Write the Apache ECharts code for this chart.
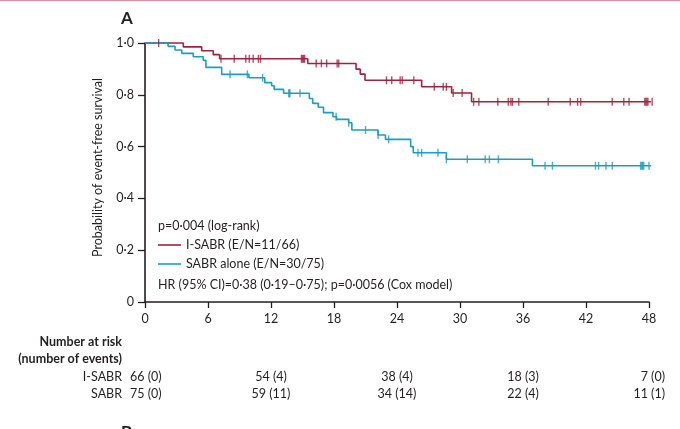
<!DOCTYPE html>
<html><head><meta charset="utf-8">
<script src="https://cdn.jsdelivr.net/npm/echarts@6/dist/echarts.min.js"></script>
<style>html,body{margin:0;padding:0;background:#fff}#c{width:680px;height:429px}</style>
</head><body><div id="c"></div>
<script>
// Kaplan-Meier step data: [time (months), survival after the event]
const isabrSteps = [[0,1],[3.65,0.985],[5.4,0.970],[6.5,0.955],[7.1,0.939],[15.5,0.921],[20.1,0.899],[20.5,0.880],[20.95,0.856],[26.35,0.831],[29.2,0.807],[31.1,0.773],[48.3,0.773]];
const sabrSteps = [[0,1],[2.2,0.987],[2.86,0.973],[3.5,0.960],[4.6,0.947],[5.55,0.933],[5.8,0.906],[7.3,0.879],[9.9,0.866],[11.4,0.847],[12.06,0.835],[12.3,0.821],[13.2,0.806],[15.65,0.786],[15.97,0.767],[16.5,0.752],[17.0,0.731],[17.9,0.715],[18.25,0.705],[19.4,0.692],[19.7,0.664],[22.2,0.645],[22.9,0.628],[25.3,0.600],[25.55,0.576],[28.7,0.551],[36.9,0.526],[48.3,0.526]];
// censoring times
const isabrCensor = [1.3,7.24,8.5,9.6,9.93,10.3,10.8,11.0,14.9,15.0,15.1,15.2,16.3,16.8,17.3,18.3,18.45,23.0,23.5,24.3,24.5,25.6,27.55,28.4,28.7,29.35,30.2,31.3,31.8,33.6,34.6,34.85,35.0,35.6,38.4,40.5,41.2,41.5,44.5,45.6,46.1,47.6,47.7,47.8,47.9,48.3];
const sabrCensor = [8.1,9.75,11.2,13.7,13.75,13.8,14.76,18.2,19.4,21.0,22.2,23.2,26.0,26.35,27.9,28.7,30.7,32.4,32.8,33.65,38.1,38.8,42.9,43.2,43.9,44.5,47.2,47.3,47.4,47.5,48.0];
// x ticks and at-risk table
const xTicks = [0,6,12,18,24,30,36,42,48];
const riskTimes = [0,12,24,36,48];
const riskISABR = ['66 (0)','54 (4)','38 (4)','18 (3)','7 (0)'];
const riskSABR = ['75 (0)','59 (11)','34 (14)','22 (4)','11 (1)'];

const RED = '#a3223c', BLUE = '#1a9ec3', INK = '#231f20';
const FONT = 'Lato';
function survAt(steps, t){ let s = 1; for (const p of steps){ if (p[0] <= t) s = p[1]; } return s; }
const dot = v => String(v).replace('.', '·');

const chart = echarts.init(document.getElementById('c'));
const option = {
  animation: false,
  textStyle: {fontFamily: FONT, color: INK},
  grid: {left: 145, right: 31, top: 43, bottom: 127},
  xAxis: {type: 'value', min: 0, max: 48, interval: 6,
    axisLine: {lineStyle: {color: INK, width: 1.6}},
    axisTick: {length: 6, lineStyle: {color: INK, width: 1.3}},
    splitLine: {show: false},
    axisLabel: {color: INK, fontSize: 12.5, margin: 10, fontFamily: FONT}},
  yAxis: {type: 'value', min: 0, max: 1, interval: 0.2,
    name: 'Probability of event-free survival', nameLocation: 'middle', nameGap: 41,
    nameTextStyle: {color: INK, fontSize: 12.5, fontFamily: FONT, padding: [0, 0, 0, 10]},
    axisLine: {show: true, lineStyle: {color: INK, width: 1.6}},
    axisTick: {show: true, length: 7, lineStyle: {color: INK, width: 1.3}},
    splitLine: {show: false},
    axisLabel: {color: INK, fontSize: 12.5, margin: 11, fontFamily: FONT,
      formatter: v => v === 0 ? '0' : dot(v.toFixed(1))}},
  series: [
    {type: 'line', step: 'end', data: isabrSteps, showSymbol: false, clip: false,
     lineStyle: {color: RED, width: 1.6}, z: 2},
    {type: 'line', step: 'end', data: sabrSteps, showSymbol: false, clip: false,
     lineStyle: {color: BLUE, width: 1.6}, z: 3},
    {type: 'scatter', data: isabrCensor.map(t => [t, survAt(isabrSteps, t)]), clip: false,
     symbol: 'rect', symbolSize: [1.4, 8], itemStyle: {color: RED}, z: 4},
    {type: 'scatter', data: sabrCensor.map(t => [t, survAt(sabrSteps, t)]), clip: false,
     symbol: 'rect', symbolSize: [1.4, 8], itemStyle: {color: BLUE}, z: 4}
  ]
};
chart.setOption(option);

const T = (x, y, text, extra) => ({type: 'text', x, y,
  style: Object.assign({text, fill: INK, font: '12.5px ' + FONT, textVerticalAlign: 'middle'}, extra || {})});
const g = [
  {type: 'line', shape: {x1: 0, y1: 0.5, x2: 680, y2: 0.5}, style: {stroke: '#c99aa5', lineWidth: 1.5}},
  T(121, 19, 'A', {font: 'bold 17px ' + FONT}),
  T(121, 433, 'B', {font: 'bold 17px ' + FONT}),
  T(158, 226, 'p=0·004 (log-rank)'),
  {type: 'line', shape: {x1: 158, y1: 245, x2: 181, y2: 245}, style: {stroke: RED, lineWidth: 1.6}},
  T(186, 245, 'I-SABR (E/N=11/66)'),
  {type: 'line', shape: {x1: 158, y1: 264, x2: 181, y2: 264}, style: {stroke: BLUE, lineWidth: 1.6}},
  T(186, 264, 'SABR alone (E/N=30/75)'),
  T(158, 285, 'HR (95% CI)=0·38 (0·19–0·75); p=0·0056 (Cox model)'),
  T(122, 342, 'Number at risk', {font: 'bold 12.5px ' + FONT, textAlign: 'right'}),
  T(122, 359, '(number of events)', {font: 'bold 12.5px ' + FONT, textAlign: 'right'}),
  T(122, 377, 'I-SABR', {textAlign: 'right'}),
  T(122, 394, 'SABR', {textAlign: 'right'})
];
riskTimes.forEach((t, i) => {
  const px = chart.convertToPixel({xAxisIndex: 0}, t);
  let x = px, align = 'center';
  if (i === 0) { x = px - 15; align = 'left'; }
  if (i === riskTimes.length - 1) { x = px + 16; align = 'right'; }
  g.push(T(x, 377, riskISABR[i], {textAlign: align}));
  g.push(T(x, 394, riskSABR[i], {textAlign: align}));
});
chart.setOption({graphic: g});
</script></body></html>
